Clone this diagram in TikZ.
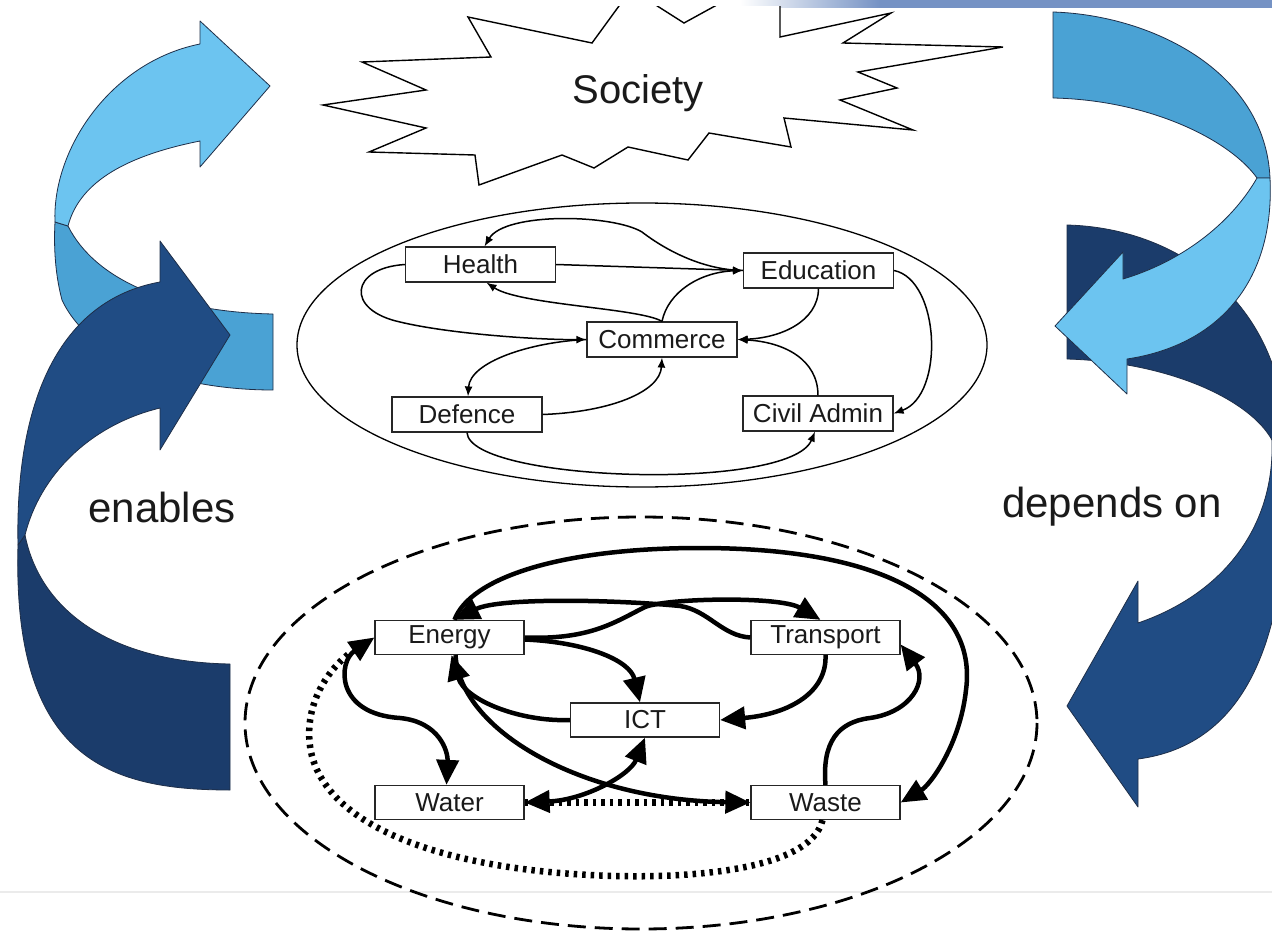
\documentclass[tikz,border=0pt]{standalone}
\usepackage{fontspec}
\setmainfont{Liberation Sans}
\usetikzlibrary{arrows.meta}
\definecolor{lightb}{HTML}{6CC4F0}
\definecolor{midb}{HTML}{4AA2D4}
\definecolor{darkf}{HTML}{204C84}
\definecolor{darkb}{HTML}{1B3C6B}
\definecolor{edgeb}{HTML}{1E2E48}
\definecolor{barb}{HTML}{7592C4}
\definecolor{ink}{HTML}{1A1A1A}
\begin{document}
\begin{tikzpicture}[x=1pt,y=-1pt,
  socbox/.style={draw=black!85, line width=1.2pt, fill=white, minimum width=150pt, minimum height=35pt, inner sep=0pt, text=ink, font=\fontsize{26}{30}\selectfont},
  infbox/.style={draw=black!85, line width=1.3pt, fill=white, minimum width=149pt, minimum height=34pt, inner sep=0pt, text=ink, font=\fontsize{26}{30}\selectfont},
  socarrow/.style={line width=1.5pt, -{Latex[length=10pt,width=8pt]}},
  infarrow/.style={line width=4.5pt, -{Triangle[length=25pt,width=22pt]}},
  infboth/.style={line width=4.5pt, {Triangle[length=25pt,width=22pt]}-{Triangle[length=25pt,width=22pt]}},
  dotline/.style={line width=6.5pt, dash pattern=on 3.5pt off 5pt},
  ribbon/.style={draw=edgeb, line width=0.8pt, line join=round},
  bigtext/.style={text=ink, font=\fontsize{42}{50}\selectfont}
]
\useasboundingbox (0,0) rectangle (1272,931);
\fill[white] (0,0) rectangle (1272,931);
% top bar
\shade[left color=white, right color=barb] (740,0) rectangle (880,8);
\fill[barb] (880,0) rectangle (1272,8);
% faint line
\draw[black!8, line width=2pt] (0,892) -- (1272,892);

% ===== left arrows =====
\fill[midb, ribbon] (68,226) .. controls (95,280) and (170,312) .. (273,314) -- (273,390)
  .. controls (180,390) and (90,360) .. (62,300) .. controls (54,270) and (54,240) .. (55,222) -- cycle;
\fill[lightb, ribbon] (55,222) .. controls (52,150) and (110,62) .. (200,44) -- (200,21) -- (270,86)
  -- (200,167) -- (200,141) .. controls (130,155) and (80,180) .. (68,226) -- cycle;
\fill[darkb, ribbon] (25,535) .. controls (40,610) and (110,662) .. (230,664) -- (230,790)
  .. controls (110,790) and (12,760) .. (18,545) -- cycle;
\fill[darkf, ribbon] (160,282) -- (160,241) -- (230,335) -- (160,450) -- (160,408)
  .. controls (90,425) and (40,475) .. (25,535) -- (18,545) .. controls (15,400) and (60,300) .. (160,282) -- cycle;

% ===== right arrows =====
\fill[darkb, ribbon] (1067,225) .. controls (1185,228) and (1285,310) .. (1285,440) -- (1272,440)
  .. controls (1250,400) and (1170,362) .. (1067,359) -- cycle;
\fill[midb, ribbon] (1053,12) .. controls (1150,15) and (1265,70) .. (1270,178) -- (1257,178)
  .. controls (1230,140) and (1150,100) .. (1053,98) -- cycle;
\fill[lightb, ribbon] (1257,178) .. controls (1230,225) and (1180,262) .. (1123,279) -- (1123,252)
  -- (1055,326) -- (1127,394) -- (1127,359) .. controls (1220,345) and (1275,280) .. (1270,178) -- cycle;
\fill[darkf, ribbon] (1272,440) .. controls (1275,530) and (1220,595) .. (1138,623) -- (1138,581)
  -- (1067,706) -- (1138,807) -- (1138,759) .. controls (1245,745) and (1295,640) .. (1285,440) -- cycle;

% labels
\node[bigtext] (enables) at (162,507) {enables};
\node[bigtext] (depends) at (1112,507) {depends on};

% ===== Society star =====
\begin{scope}
\clip (0,7) rectangle (1272,931);
\draw[line width=1.4pt, line join=miter, fill=white] (592,43) -- (627,-5) -- (640,-5) -- (684,23) -- (735,-5)
  -- (780,-5) -- (780,37) -- (891,13) -- (843,43) -- (1003,47) -- (858,72) -- (897,88) -- (840,100)
  -- (913,130) -- (784,118) -- (791,147) -- (709,133) -- (688,160) -- (628,147) -- (594,168)
  -- (562,155) -- (479,185) -- (475,155) -- (369,152) -- (426,128) -- (323,105) -- (426,90)
  -- (362,62) -- (491,57) -- (468,17) -- cycle;
\end{scope}
\node[text=ink, font=\fontsize{40}{48}\selectfont] (society) at (638,93) {Society};

% ===== middle network =====
\draw[line width=1.3pt] (642,345) ellipse [x radius=345, y radius=142];
\node[socbox] (health) at (480.5,264.5) {Health};
\node[socbox] (education) at (818.5,270.5) {Education};
\node[socbox] (commerce) at (662,339.5) {Commerce};
\node[socbox] (defence) at (467,414.5) {Defence};
\node[socbox] (civil) at (818,413.5) {Civil Admin};

\draw[socarrow] (education.west) .. controls (705,270) and (668,252) .. (642,232)
  .. controls (612,214) and (505,212) .. ([xshift=4pt]health.north);
\draw[socarrow] (health.east) -- (education.west);
\draw[socarrow] (commerce.north) .. controls (640,308) and (520,305) .. ([xshift=6pt]health.south);
\draw[socarrow] (commerce.north) .. controls (668,292) and (700,272) .. (education.west);
\draw[socarrow] (health.west) .. controls (350,268) and (345,310) .. (400,322)
  .. controls (450,334) and (540,340) .. (commerce.west);
\draw[socarrow] (education.south) .. controls (818,322) and (780,338) .. (commerce.east);
\draw[socarrow] (civil.north) .. controls (818,360) and (785,342) .. (commerce.east);
\draw[socarrow] (education.east) .. controls (940,280) and (945,395) .. (civil.east);
\draw[socarrow] (commerce.west) .. controls (530,342) and (470,362) .. ([xshift=1pt]defence.north);
\draw[socarrow] (defence.east) .. controls (610,412) and (660,392) .. (commerce.south);
\draw[socarrow] (defence.south) .. controls (470,482) and (790,492) .. ([xshift=-3pt]civil.south);

% ===== bottom network =====
\draw[line width=2.8pt, dash pattern=on 18pt off 9pt] (641,723) ellipse [x radius=396, y radius=206];
\node[infbox] (energy) at (449.5,637.5) {Energy};
\node[infbox] (transport) at (825.5,637.5) {Transport};
\node[infbox] (ict) at (645,720) {ICT};
\node[infbox] (water) at (449.5,802.5) {Water};
\node[infbox] (waste) at (825.5,802.5) {Waste};

\draw[dotline] (water.east) -- (waste.west);
\draw[dotline] ([xshift=-3pt]waste.south) .. controls (810,872) and (680,880) .. (590,875)
  .. controls (450,868) and (328,830) .. (311,752) .. controls (303,712) and (322,675) .. ([xshift=-25pt,yshift=-16pt]energy.west);
\draw[infarrow] ([xshift=5pt]energy.north) .. controls (470,578) and (560,548) .. (700,548)
  .. controls (880,548) and (978,600) .. (966,690) .. controls (960,745) and (930,785) .. (waste.east);
\draw[infarrow] (energy.east) .. controls (590,640) and (615,622) .. (645,607)
  .. controls (668,598) and (780,596) .. ([xshift=-5pt]transport.north);
\draw[infarrow] (transport.west) .. controls (722,636) and (708,610) .. (680,606)
  .. controls (620,600) and (500,597) .. ([xshift=5pt]energy.north);
\draw[infarrow] ([yshift=-2pt]energy.east) .. controls (585,642) and (630,660) .. ([xshift=-5pt]ict.north);
\draw[infarrow] (ict.west) .. controls (520,722) and (465,700) .. ([xshift=2pt]energy.south);
\draw[infarrow] ([xshift=6pt]energy.south) .. controls (460,730) and (580,800) .. (waste.west);
\draw[infboth] (water.east) .. controls (585,800) and (630,775) .. (ict.south);
\draw[infboth] (energy.west) .. controls (338,662) and (335,714) .. (400,718)
  .. controls (440,722) and (448,752) .. ([xshift=-3pt]water.north);
\draw[infarrow] (transport.south) .. controls (827,692) and (790,714) .. (ict.east);
\draw[infarrow] (waste.north) .. controls (822,742) and (838,722) .. (870,718)
  .. controls (912,712) and (928,680) .. ([yshift=-7pt]transport.east);
\end{tikzpicture}
\end{document}
